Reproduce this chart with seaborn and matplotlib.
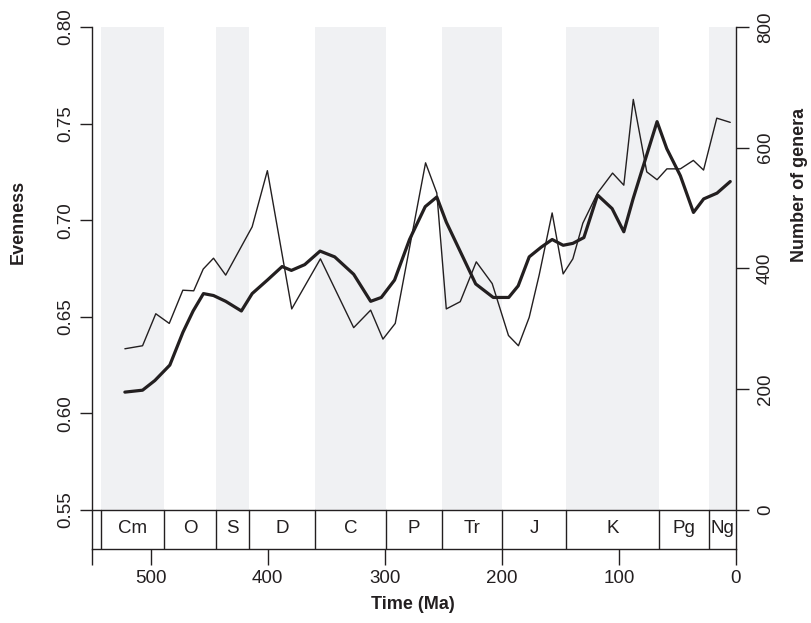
import numpy as np
import pandas as pd
import seaborn as sns
import matplotlib.pyplot as plt

# -------------------------------------------------------------
# DATA
# -------------------------------------------------------------
# geological periods for the timescale strip (Ma)
period_names = ['Cm', 'O', 'S', 'D', 'C', 'P', 'Tr', 'J', 'K', 'Pg', 'Ng']
period_base = [542.0, 488.3, 443.7, 416.0, 359.2, 299.0, 251.0, 199.6, 145.5, 65.5, 23.0]
period_end = [488.3, 443.7, 416.0, 359.2, 299.0, 251.0, 199.6, 145.5, 65.5, 23.0, 0.0]
period_shaded = [True, False, True, False, True, False, True, False, True, False, True]

# evenness (thick line, left axis)
even_age = [521.9, 506.8, 496.3, 483.5, 472.3, 463.6, 454.8, 446.2, 435.8, 422.4,
            413.2, 400.2, 387.6, 379.7, 368.3, 355.2, 342.7, 326.5, 312.0, 302.9,
            291.6, 278.8, 265.4, 255.5, 247.4, 222.3, 207.3, 194.1, 186.0, 176.6,
            166.4, 157.0, 147.6, 139.3, 129.9, 118.2, 105.8, 95.8, 87.9, 67.4,
            59.1, 47.5, 36.3, 27.6, 16.2, 4.9]
evenness = [0.611, 0.612, 0.617, 0.625, 0.642, 0.653, 0.662, 0.661, 0.658, 0.653,
            0.662, 0.669, 0.676, 0.674, 0.677, 0.684, 0.681, 0.672, 0.658, 0.660,
            0.669, 0.690, 0.707, 0.712, 0.699, 0.667, 0.660, 0.660, 0.666, 0.681,
            0.686, 0.690, 0.687, 0.688, 0.691, 0.713, 0.706, 0.694, 0.711, 0.751,
            0.737, 0.723, 0.704, 0.711, 0.714, 0.720]

# number of genera (thin line, right axis)
gen_age = [521.9, 506.8, 495.5, 484.0, 472.4, 463.1, 455.0, 446.2, 435.8, 413.2,
           400.2, 379.4, 354.9, 326.5, 312.0, 301.5, 291.0, 265.1, 255.5, 247.4,
           235.5, 221.8, 208.2, 194.3, 185.8, 176.6, 168.1, 157.0, 147.6, 139.3,
           130.8, 118.2, 105.4, 95.8, 87.7, 76.2, 67.4, 59.0, 47.5, 36.4,
           27.7, 16.4, 4.9]
genera = [267, 272, 325, 309, 364, 363, 399, 417, 389, 469,
          562, 333, 416, 302, 331, 283, 309, 575, 525, 333,
          345, 411, 375, 289, 272, 319, 389, 492, 391, 416,
          475, 525, 558, 538, 680, 560, 547, 565, 565, 579,
          563, 649, 642]

x_ticks = [550, 500, 400, 300, 200, 100, 0]
x_labels = ['', '500', '400', '300', '200', '100', '0']
even_ticks = [0.55, 0.60, 0.65, 0.70, 0.75, 0.80]
gen_ticks = [0, 200, 400, 600, 800]

ink = '#231f20'
shade = '#f0f1f3'

even_df = pd.DataFrame({'Age': even_age, 'Evenness': evenness})
gen_df = pd.DataFrame({'Age': gen_age, 'Genera': genera})

# -------------------------------------------------------------
# PLOT
# -------------------------------------------------------------
sns.set_style("ticks")
plt.rcParams['font.family'] = ['Liberation Sans', 'DejaVu Sans']
plt.rcParams['text.color'] = ink
plt.rcParams['axes.edgecolor'] = ink
plt.rcParams['xtick.color'] = ink
plt.rcParams['ytick.color'] = ink

fig = plt.figure(figsize=(8.11, 6.23), dpi=100)
ax = fig.add_axes([0.1134, 0.1194, 0.7941, 0.8373])

ax.set_xlim(550, 0)
ax.set_ylim(0.53, 0.80)
strip_frac = (0.55 - 0.53) / (0.80 - 0.53)

# shaded periods
for b, e, s in zip(period_base, period_end, period_shaded):
    if s:
        ax.axvspan(b, e, ymin=strip_frac, ymax=1, color=shade, lw=0, zorder=0)

# timescale strip
ax.axhline(0.55, color=ink, lw=1.0, zorder=3)
for b, e, name in zip(period_base, period_end, period_names):
    ax.plot([b, b], [0.53, 0.55], color=ink, lw=1.0, zorder=3)
    ax.text((b + e) / 2, 0.5403, name, ha='center', va='center', fontsize=13.5)

sns.lineplot(data=even_df, x='Age', y='Evenness', ax=ax, color=ink, linewidth=2.3, zorder=4)

ax2 = ax.twinx()
ax2.set_ylim(-64, 800)
sns.lineplot(data=gen_df, x='Age', y='Genera', ax=ax2, color=ink, linewidth=1.0, zorder=4)
ax2.set_xlim(550, 0)

# axes styling
ax.set_xticks(x_ticks)
ax.set_xticklabels(x_labels)
ax.set_yticks(even_ticks)
ax.set_yticklabels([f'{v:.2f}' for v in even_ticks], rotation=90, va='center')
ax2.set_yticks(gen_ticks)
ax2.set_yticklabels([str(v) for v in gen_ticks], rotation=90, va='center')

ax.tick_params(axis='x', length=11.5, width=1, pad=4, labelsize=13.5)
ax.tick_params(axis='y', length=9, width=1, pad=4, labelsize=13.5)
ax2.tick_params(axis='y', length=9, width=1, pad=6, labelsize=13.5)

for a in (ax, ax2):
    a.spines['top'].set_visible(False)
    for sp in a.spines.values():
        sp.set_linewidth(1.0)
ax.spines['right'].set_visible(False)
ax2.spines['left'].set_visible(False)
ax2.spines['bottom'].set_visible(False)

ax.set_xlabel('')
ax.set_ylabel('')
ax2.set_ylabel('')

fig.text(0.0222, 0.6437, 'Evenness', rotation=90, ha='center', va='center',
         fontsize=13, fontweight='bold')
fig.text(0.986, 0.703, 'Number of genera', rotation=90, ha='center', va='center',
         fontsize=13, fontweight='bold')
fig.text(0.509, 0.029, 'Time (Ma)', ha='center', va='center',
         fontsize=13, fontweight='bold')

plt.savefig('out.png', dpi=100)
